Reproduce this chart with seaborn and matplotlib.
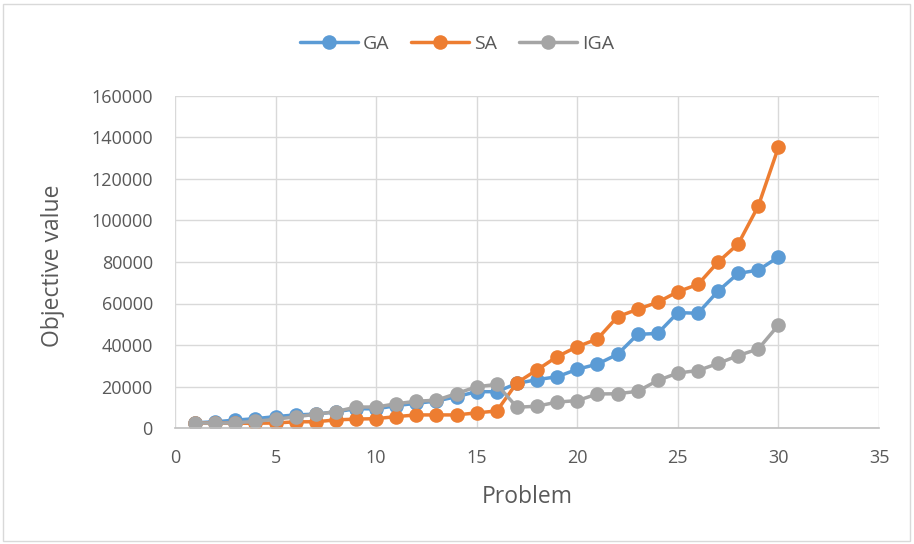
import matplotlib
matplotlib.use("Agg")
import matplotlib.pyplot as plt
import seaborn as sns
import pandas as pd
from matplotlib.patches import Rectangle

problems = list(range(1, 31))
ga = [2500, 3000, 3800, 4500, 5500, 6300, 6700, 7800, 9300, 9200, 10800, 11900, 13000, 15100, 17500, 17500,
      21500, 23300, 24700, 28300, 30800, 35500, 45100, 45600, 55600, 55300, 66000, 74500, 76100, 82400]
sa = [2400, 2400, 2300, 2300, 2400, 3000, 3000, 3900, 4300, 4500, 5500, 6300, 6300, 6300, 7300, 8200,
      21800, 28000, 34400, 39200, 42900, 53600, 57200, 60600, 65700, 69200, 80000, 88700, 107000, 135300]
iga = [2500, 2300, 2500, 3200, 4200, 5400, 6600, 7900, 10100, 10100, 11700, 12900, 13400, 16600, 19900, 21000,
       10000, 10500, 12500, 13200, 16400, 16500, 17700, 22900, 26500, 27700, 31100, 34900, 38100, 49600]
series_names = ["GA", "SA", "IGA"]
colors = ["#5B9BD5", "#ED7D31", "#A5A5A5"]
xticks = [0, 5, 10, 15, 20, 25, 30, 35]
yticks = [0, 20000, 40000, 60000, 80000, 100000, 120000, 140000, 160000]

sns.set_theme(style="white")
plt.rcParams["font.family"] = ["Open Sans", "DejaVu Sans"]

fig = plt.figure(figsize=(9.14, 5.44), dpi=100)
ax = fig.add_axes([175/914, 1-428/544, (879-175)/914, (428-96)/544])

for name, vals, c in zip(series_names, [ga, sa, iga], colors):
    df = pd.DataFrame({"Problem": problems, "value": vals})
    sns.lineplot(data=df, x="Problem", y="value", ax=ax, color=c, marker="o",
                 markersize=10.5, markeredgewidth=0, linewidth=2.5, label=name)

ax.set_xlim(0, 35)
ax.set_ylim(0, 160000)
ax.set_xticks(xticks)
ax.set_yticks(yticks)
ax.set_xticklabels([str(t) for t in xticks])
ax.set_yticklabels([str(t) for t in yticks])
ax.tick_params(axis="both", labelsize=13, colors="#595959", length=0)
ax.tick_params(axis="y", pad=16)
ax.tick_params(axis="x", pad=15)
ax.grid(True, color="#D9D9D9", linewidth=1)
ax.set_axisbelow(True)
for s in ["left", "top", "right"]:
    ax.spines[s].set_visible(False)
ax.spines["bottom"].set_color("#BFBFBF")
ax.spines["bottom"].set_linewidth(1.2)
ax.set_xlabel("Problem", fontsize=16.5, color="#595959")
ax.set_ylabel("Objective value", fontsize=16.5, color="#595959")
ax.xaxis.set_label_coords(0.5, -0.172)
ax.yaxis.set_label_coords(-0.156, 0.488)

handles, labels = ax.get_legend_handles_labels()
ax.legend_.remove()
fig.legend(handles, labels, loc="center", bbox_to_anchor=(0.5, 1-44/544), ncol=3,
           frameon=False, fontsize=14, labelcolor="#595959", handlelength=3.0,
           columnspacing=1.1, handletextpad=0.25)

fig.patches.append(Rectangle((3/914, 3/544), 1-7/914, 1-7/544, transform=fig.transFigure,
                             fill=False, edgecolor="#D9D9D9", linewidth=1))

fig.savefig("out.png", dpi=100)
